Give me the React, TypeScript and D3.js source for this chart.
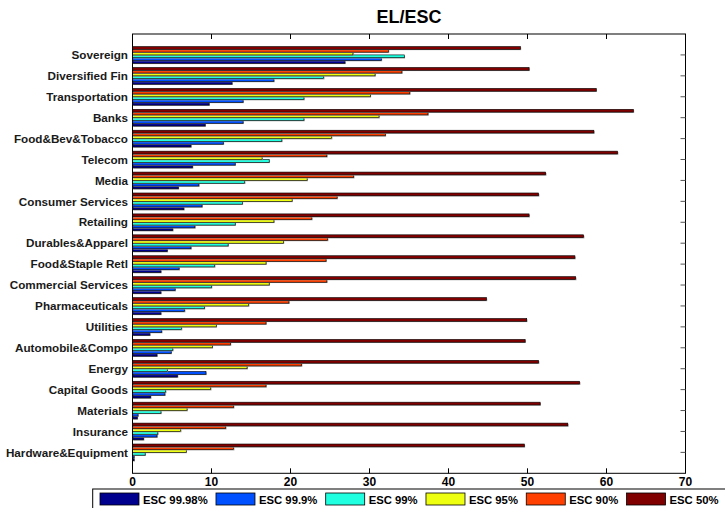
import React, { useEffect, useRef } from 'react';
import * as d3 from 'd3';

const categories = ['Sovereign', 'Diversified Fin', 'Transportation', 'Banks', 'Food&Bev&Tobacco', 'Telecom', 'Media', 'Consumer Services', 'Retailing', 'Durables&Apparel', 'Food&Staple Retl', 'Commercial Services', 'Pharmaceuticals', 'Utilities', 'Automobile&Compo', 'Energy', 'Capital Goods', 'Materials', 'Insurance', 'Hardware&Equipment'];

const seriesNames = ['ESC 99.98%', 'ESC 99.9%', 'ESC 99%', 'ESC 95%', 'ESC 90%', 'ESC 50%'];
const seriesColors = ['#00008f', '#0050ff', '#20ffdf', '#efff10', '#ff4000', '#800000'];

const esc9998 = [26.9, 12.6, 9.7, 9.2, 7.4, 7.6, 5.8, 6.5, 5.1, 4.4, 3.6, 3.6, 3.6, 2.2, 3.1, 5.7, 2.3, 0.6, 1.4, 0.2];
const esc999 = [31.5, 17.9, 14.0, 14.0, 11.5, 13.0, 8.4, 8.8, 7.9, 7.4, 5.9, 5.4, 6.6, 3.7, 4.9, 9.3, 4.1, 0.7, 3.1, 0.2];
const esc99 = [34.4, 24.2, 21.7, 21.7, 18.9, 17.3, 14.2, 13.9, 13.0, 12.1, 10.4, 10.0, 9.1, 6.2, 5.1, 4.4, 4.2, 3.6, 3.2, 1.6];
const esc95 = [27.9, 30.7, 30.1, 31.2, 25.2, 16.4, 22.1, 20.2, 17.9, 19.1, 16.9, 17.3, 14.7, 10.6, 10.1, 14.5, 9.9, 6.9, 6.1, 6.8];
const esc90 = [32.4, 34.1, 35.1, 37.4, 32.0, 24.6, 28.0, 25.9, 22.7, 24.7, 24.5, 24.6, 19.8, 16.9, 12.4, 21.4, 16.9, 12.8, 11.8, 12.8];
const esc50 = [49.1, 50.2, 58.7, 63.4, 58.4, 61.4, 52.3, 51.4, 50.2, 57.1, 56.0, 56.1, 44.8, 49.9, 49.7, 51.4, 56.6, 51.6, 55.1, 49.6];

const seriesValues = [esc9998, esc999, esc99, esc95, esc90, esc50];
const xTicks = [0, 10, 20, 30, 40, 50, 60, 70];

export default function App() {
  const svgRef = useRef<SVGSVGElement>(null);

  useEffect(() => {
    const svg = d3.select(svgRef.current);
    svg.selectAll('*').remove();

    const width = 725;
    const height = 508;
    const margin = { t: 34, r: 39.5, l: 132.5, b: 34.7 };
    const font = 'Liberation Sans, Arial, sans-serif';

    const x = d3.scaleLinear().domain([0, 70]).range([margin.l, width - margin.r]);
    // categories sit at 1..20 on a 0..21 axis, first one at top
    const y = d3.scaleLinear().domain([0, 21]).range([margin.t, height - margin.b]);
    const unit = y(1) - y(0);
    const inner = d3.scaleBand<number>()
      .domain(d3.range(seriesNames.length).reverse())
      .range([-0.4 * unit, 0.4 * unit]);

    const rows = categories.map((c, i) => ({ c, i }));

    svg.append('text')
      .attr('x', (x(0) + x(70)) / 2)
      .attr('y', 22.5)
      .attr('text-anchor', 'middle')
      .attr('font-family', font)
      .attr('font-weight', 'bold')
      .attr('font-size', 18)
      .text('EL/ESC');

    // bars
    const g = svg.append('g');
    seriesValues.forEach((vals, s) => {
      const bars = g.selectAll(null).data(vals).enter();
      bars.append('rect')
        .attr('x', x(0) + 0.8)
        .attr('y', (d, i) => y(i + 1) + inner(s)! + 0.8)
        .attr('width', d => Math.max(0, x(d) - x(0)))
        .attr('height', inner.bandwidth())
        .attr('fill', '#9a9a9a');
      bars.append('rect')
        .attr('x', x(0))
        .attr('y', (d, i) => y(i + 1) + inner(s)!)
        .attr('width', d => Math.max(0, x(d) - x(0)))
        .attr('height', inner.bandwidth())
        .attr('fill', seriesColors[s])
        .attr('stroke', '#000')
        .attr('stroke-width', 0.6);
    });

    // axes box and ticks
    svg.append('rect')
      .attr('x', x(0)).attr('y', y(0))
      .attr('width', x(70) - x(0)).attr('height', y(21) - y(0))
      .attr('fill', 'none').attr('stroke', '#000').attr('stroke-width', 1);

    const tickLen = 5;
    xTicks.slice(1, -1).forEach(t => {
      svg.append('line').attr('x1', x(t)).attr('x2', x(t))
        .attr('y1', y(0)).attr('y2', y(0) + tickLen).attr('stroke', '#000');
      svg.append('line').attr('x1', x(t)).attr('x2', x(t))
        .attr('y1', y(21)).attr('y2', y(21) - tickLen).attr('stroke', '#000');
    });
    svg.append('g').selectAll('line').data(rows).enter().append('line')
      .attr('x1', x(70)).attr('x2', x(70) - tickLen)
      .attr('y1', d => y(d.i + 1)).attr('y2', d => y(d.i + 1))
      .attr('stroke', '#555');

    svg.append('g').selectAll('text').data(xTicks).enter().append('text')
      .attr('x', d => x(d))
      .attr('y', y(21) + 13)
      .attr('text-anchor', 'middle')
      .attr('font-family', font)
      .attr('font-weight', 'bold')
      .attr('font-size', 12)
      .text(d => d);

    svg.append('g').selectAll('text').data(rows).enter().append('text')
      .attr('x', x(0) - 4.5)
      .attr('y', d => y(d.i + 1))
      .attr('dy', '0.36em')
      .attr('text-anchor', 'end')
      .attr('font-family', font)
      .attr('font-weight', 'bold')
      .attr('font-size', 11.7)
      .attr('fill', '#1a1a1a')
      .text(d => d.c);

    // legend
    const leg = svg.append('g');
    leg.append('rect')
      .attr('x', 92.7).attr('y', 489)
      .attr('width', 640).attr('height', 22)
      .attr('fill', '#fff').attr('stroke', '#000');
    let lx = 100;
    seriesNames.forEach((name, s) => {
      leg.append('rect')
        .attr('x', lx).attr('y', 493)
        .attr('width', 39).attr('height', 12)
        .attr('fill', seriesColors[s]).attr('stroke', '#000').attr('stroke-width', 0.8);
      const t = leg.append('text')
        .attr('x', lx + 43).attr('y', 503.5)
        .attr('font-family', font)
        .attr('font-weight', 'bold')
        .attr('font-size', 11.3)
        .text(name);
      const w = (t.node() as SVGTextElement).getComputedTextLength();
      lx += 43 + w + 8.3;
    });
  }, []);

  return (
    <div style={{ position: 'absolute', left: 0, top: 0 }}>
      <svg ref={svgRef} width={725} height={508} viewBox="0 0 725 508" style={{ display: 'block', background: '#fff' }} />
    </div>
  );
}
